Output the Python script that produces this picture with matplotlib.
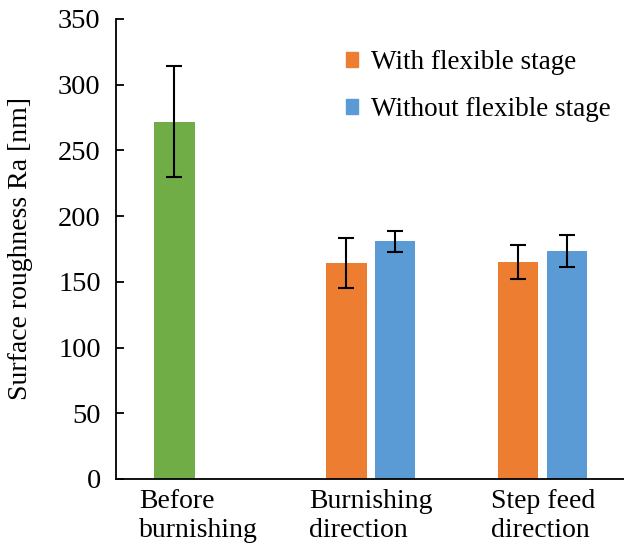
import matplotlib
matplotlib.use("Agg")
import matplotlib.pyplot as plt
import numpy as np

# données
categories = ["Before\nburnishing", "Burnishing\ndirection", "Step feed\ndirection"]
with_stage = [272, 164, 165]
with_stage_err = [42, 19, 13]
without_stage = [np.nan, 181, 173.5]
without_stage_err = [np.nan, 8, 12]
bar_colors_with = ["#70AD47", "#ED7D31", "#ED7D31"]
labels = ["With flexible stage", "Without flexible stage"]

plt.rcParams["font.family"] = ["Liberation Serif", "DejaVu Serif"]

fig = plt.figure(figsize=(6.24, 5.49), dpi=100)
ax = fig.add_axes([116 / 624, 70 / 549, 512.7 / 624, 460 / 549])

x = np.arange(len(categories))
w = 0.233
off = 0.141

ax.bar(x - off, with_stage, w, color=bar_colors_with)
ax.bar(x + off, without_stage, w, color="#5B9BD5")
ax.errorbar(x - off, with_stage, yerr=with_stage_err, fmt="none",
            ecolor="black", elinewidth=1.5, capsize=5.5, capthick=1.5)
ax.errorbar(x + off, without_stage, yerr=without_stage_err, fmt="none",
            ecolor="black", elinewidth=1.5, capsize=5.5, capthick=1.5)

# légende (seulement les deux séries)
h1 = plt.Rectangle((0, 0), 1, 1, color="#ED7D31")
h2 = plt.Rectangle((0, 0), 1, 1, color="#5B9BD5")
ax.legend([h1, h2], labels, loc="upper right", bbox_to_anchor=(1.013, 0.985),
          frameon=False, fontsize=19.5, handlelength=0.45, handleheight=0.45,
          handletextpad=0.5, labelspacing=0.8)

ax.set_xlim(-0.481, 2.5)
ax.set_ylim(0, 350)
ax.set_yticks(range(0, 351, 50))
ax.set_xticks(x)
ax.set_xticklabels(categories, multialignment="left", fontsize=20)
ax.tick_params(axis="x", length=0, pad=7)
ax.tick_params(axis="y", direction="in", length=6, width=1.3, labelsize=20.5, pad=11)
ax.set_ylabel("Surface roughness Ra [nm]", fontsize=20, labelpad=18)

for s in ["top", "right"]:
    ax.spines[s].set_visible(False)
for s in ["left", "bottom"]:
    ax.spines[s].set_linewidth(1.3)

fig.savefig("out.png", dpi=100)
